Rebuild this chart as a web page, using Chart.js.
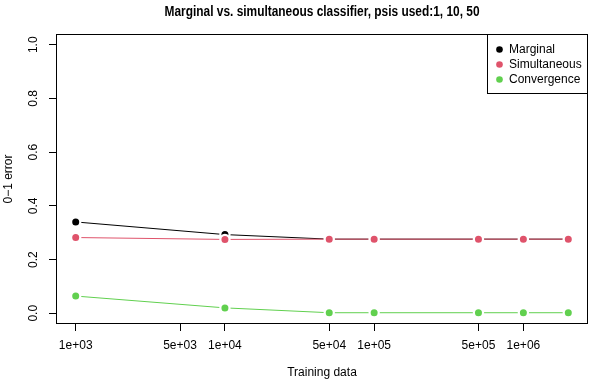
<!DOCTYPE html>
<html>
<head>
<meta charset="utf-8">
<script src="https://cdn.jsdelivr.net/npm/chart.js@4"></script>
<style>
  html, body { margin: 0; padding: 0; background: #fff; }
  #wrap { width: 590px; height: 380px; }
</style>
</head>
<body>
<div id="wrap"><canvas id="c" width="590" height="380"></canvas></div>
<script>
// training data sizes (x, log scale)
const trainSizes = [1000, 10000, 50000, 100000, 500000, 1000000, 2000000];
const marginal = [0.340, 0.293, 0.276, 0.276, 0.276, 0.276, 0.276];
const simultaneous = [0.282, 0.275, 0.276, 0.276, 0.276, 0.276, 0.276];
const convergence = [0.064, 0.020, 0.002, 0.002, 0.002, 0.002, 0.002];

const xTicks = [1000, 5000, 10000, 50000, 100000, 500000, 1000000];
const yTicks = [0, 0.2, 0.4, 0.6, 0.8, 1.0];

const FONT = "'Liberation Sans', Arial, Helvetica, sans-serif";
Chart.defaults.font.family = FONT;
Chart.defaults.color = '#000';

function pts(ys) {
  return trainSizes.map((x, i) => ({ x: x, y: ys[i] }));
}

function series(label, ys, color, order) {
  return {
    label: label,
    data: pts(ys),
    borderColor: color,
    backgroundColor: color,
    borderWidth: 1,
    pointRadius: 4.6,
    pointBorderWidth: 2.2,
    pointBorderColor: '#fff',
    pointBackgroundColor: color,
    order: order,
  };
}

// R style extras: box, title, rotated y labels, legend
const rDecor = {
  id: 'rDecor',
  afterDraw(chart) {
    const ctx = chart.ctx;
    const a = chart.chartArea;
    const ys = chart.scales.y;
    ctx.save();

    ctx.strokeStyle = '#000';
    ctx.lineWidth = 1;
    ctx.strokeRect(a.left + 0.5, a.top + 0.5, a.right - a.left - 1, a.bottom - a.top - 1);

    ctx.fillStyle = '#000';
    ctx.textAlign = 'center';
    ctx.textBaseline = 'middle';

    // title: the original uses a condensed bold face, squeeze to its width
    const title = 'Marginal vs. simultaneous classifier, psis used:1, 10, 50';
    ctx.font = 'bold 14px ' + FONT;
    const tw = ctx.measureText(title).width;
    ctx.save();
    ctx.translate((a.left + a.right) / 2, 12);
    ctx.scale(315 / tw, 1);
    ctx.fillText(title, 0, 0);
    ctx.restore();

    ctx.font = '12px ' + FONT;
    yTicks.forEach(v => {
      ctx.save();
      ctx.translate(34, ys.getPixelForValue(v));
      ctx.rotate(-Math.PI / 2);
      ctx.fillText(v.toFixed(1), 0, 0);
      ctx.restore();
    });

    ctx.save();
    ctx.translate(9, (a.top + a.bottom) / 2);
    ctx.rotate(-Math.PI / 2);
    ctx.fillText('0\u22121 error', 0, 0);
    ctx.restore();

    ctx.fillText('Training data', (a.left + a.right) / 2, 373);

    // legend
    const lx = 487.5, ly = a.top + 0.5, lw = a.right - 0.5 - lx, lh = 59;
    ctx.fillStyle = '#fff';
    ctx.fillRect(lx, ly, lw, lh);
    ctx.strokeRect(lx, ly, lw, lh);
    ctx.textAlign = 'left';
    chart.data.datasets.forEach((d, i) => {
      const yy = ly + 15 + i * 15;
      ctx.fillStyle = d.borderColor;
      ctx.beginPath();
      ctx.arc(499.5, yy, 3.3, 0, Math.PI * 2);
      ctx.fill();
      ctx.fillStyle = '#000';
      ctx.fillText(d.label, 509, yy);
    });

    ctx.restore();
  }
};

new Chart(document.getElementById('c'), {
  type: 'line',
  data: {
    datasets: [
      series('Marginal', marginal, '#000000', 3),
      series('Simultaneous', simultaneous, '#DF536B', 2),
      series('Convergence', convergence, '#61D04F', 1),
    ]
  },
  options: {
    responsive: false,
    animation: false,
    layout: { autoPadding: false, padding: { top: 34, right: 2, left: 0, bottom: 0 } },
    plugins: {
      legend: { display: false },
      title: { display: false },
      tooltip: { enabled: false },
    },
    scales: {
      x: {
        type: 'logarithmic',
        min: Math.pow(10, 3 - 0.04 * Math.log10(2000)),
        max: Math.pow(10, Math.log10(2e6) + 0.04 * Math.log10(2000)),
        afterBuildTicks: s => { s.ticks = xTicks.map(v => ({ value: v })); },
        afterFit: s => { s.height = 56; s.paddingLeft = 0; s.paddingRight = 0; },
        ticks: {
          autoSkip: false,
          maxRotation: 0,
          padding: 7,
          font: { size: 12 },
          callback: v => {
            const e = Math.floor(Math.log10(v) + 1e-9);
            const m = Math.round(v / Math.pow(10, e));
            return m + 'e+' + String(e).padStart(2, '0');
          }
        },
        grid: { drawOnChartArea: false, tickLength: 7, tickColor: '#000' },
        border: { display: false },
      },
      y: {
        type: 'linear',
        min: -0.04,
        max: 1.04,
        afterBuildTicks: s => { s.ticks = yTicks.map(v => ({ value: v })); },
        afterFit: s => { s.width = 56; s.paddingTop = 0; s.paddingBottom = 0; },
        ticks: { display: false },
        grid: { drawOnChartArea: false, tickLength: 7, tickColor: '#000' },
        border: { display: false },
      }
    }
  },
  plugins: [rDecor]
});
</script>
</body>
</html>
